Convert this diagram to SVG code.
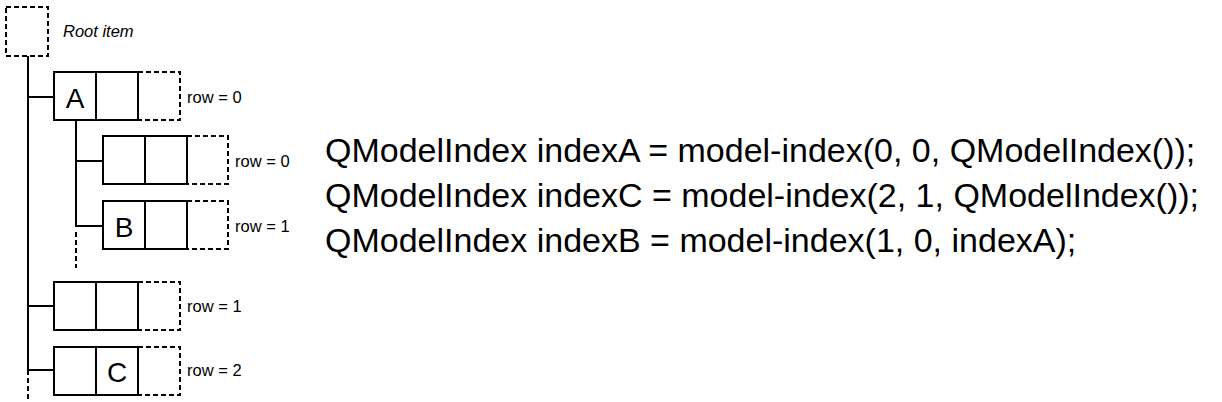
<svg xmlns="http://www.w3.org/2000/svg" width="1222" height="402" viewBox="0 0 1222 402">
<style>
.s{fill:none;stroke:#000;stroke-width:2}
.d{fill:none;stroke:#000;stroke-width:2;stroke-dasharray:5,3}
.lbl{font-family:"Liberation Sans",Arial,sans-serif;font-size:16.5px;fill:#000}
.it{font-style:italic;font-size:16.5px}
.big{font-family:"Liberation Sans",Arial,sans-serif;font-size:28px;fill:#000;text-anchor:middle}
.code{font-family:"Liberation Sans",Arial,sans-serif;font-size:34px;fill:#000}
</style>
<rect width="1222" height="402" fill="#fff"/>
<g id="connectors">
<path class="s" d="M28 56V370"/>
<path class="d" d="M28 370V402"/>
<path class="s" d="M28 97H54M28 306H54M28 370H54"/>
<path class="s" d="M76 120V227M76 161H103M76 226H103"/>
<path class="d" d="M76 232V268" stroke-dasharray="3,5"/>
</g>
<g id="root">
<rect class="d" x="6" y="7" width="42" height="49"/>
<text x="63" y="37" class="lbl it">Root item</text>
</g>
<g id="rowA">
<path class="d" d="M138 72H180V120H138"/>
<rect class="s" x="54" y="72" width="84" height="48"/>
<path class="s" d="M96 72V120"/>
<text x="75" y="108" class="big">A</text>
<text x="187" y="103" class="lbl">row = 0</text>
</g>
<g id="childRow0">
<path class="d" d="M187 136H228V184H187"/>
<rect class="s" x="103" y="136" width="84" height="48"/>
<path class="s" d="M145 136V184"/>
<text x="235" y="167" class="lbl">row = 0</text>
</g>
<g id="rowB">
<path class="d" d="M187 201H228V249H187"/>
<rect class="s" x="103" y="201" width="84" height="48"/>
<path class="s" d="M145 201V249"/>
<text x="124" y="237" class="big">B</text>
<text x="235" y="232" class="lbl">row = 1</text>
</g>
<g id="row1">
<path class="d" d="M138 282H180V330H138"/>
<rect class="s" x="54" y="282" width="84" height="48"/>
<path class="s" d="M96 282V330"/>
<text x="187" y="312" class="lbl">row = 1</text>
</g>
<g id="rowC">
<path class="d" d="M138 347H180V395H138"/>
<rect class="s" x="54" y="347" width="84" height="48"/>
<path class="s" d="M96 347V395"/>
<text x="117" y="382" class="big">C</text>
<text x="187" y="376" class="lbl">row = 2</text>
</g>
<g id="code">
<text x="325" y="162" class="code">QModelIndex indexA = model-index(0, 0, QModelIndex());</text>
<text x="325" y="207" class="code">QModelIndex indexC = model-index(2, 1, QModelIndex());</text>
<text x="325" y="252" class="code">QModelIndex indexB = model-index(1, 0, indexA);</text>
</g>
</svg>
